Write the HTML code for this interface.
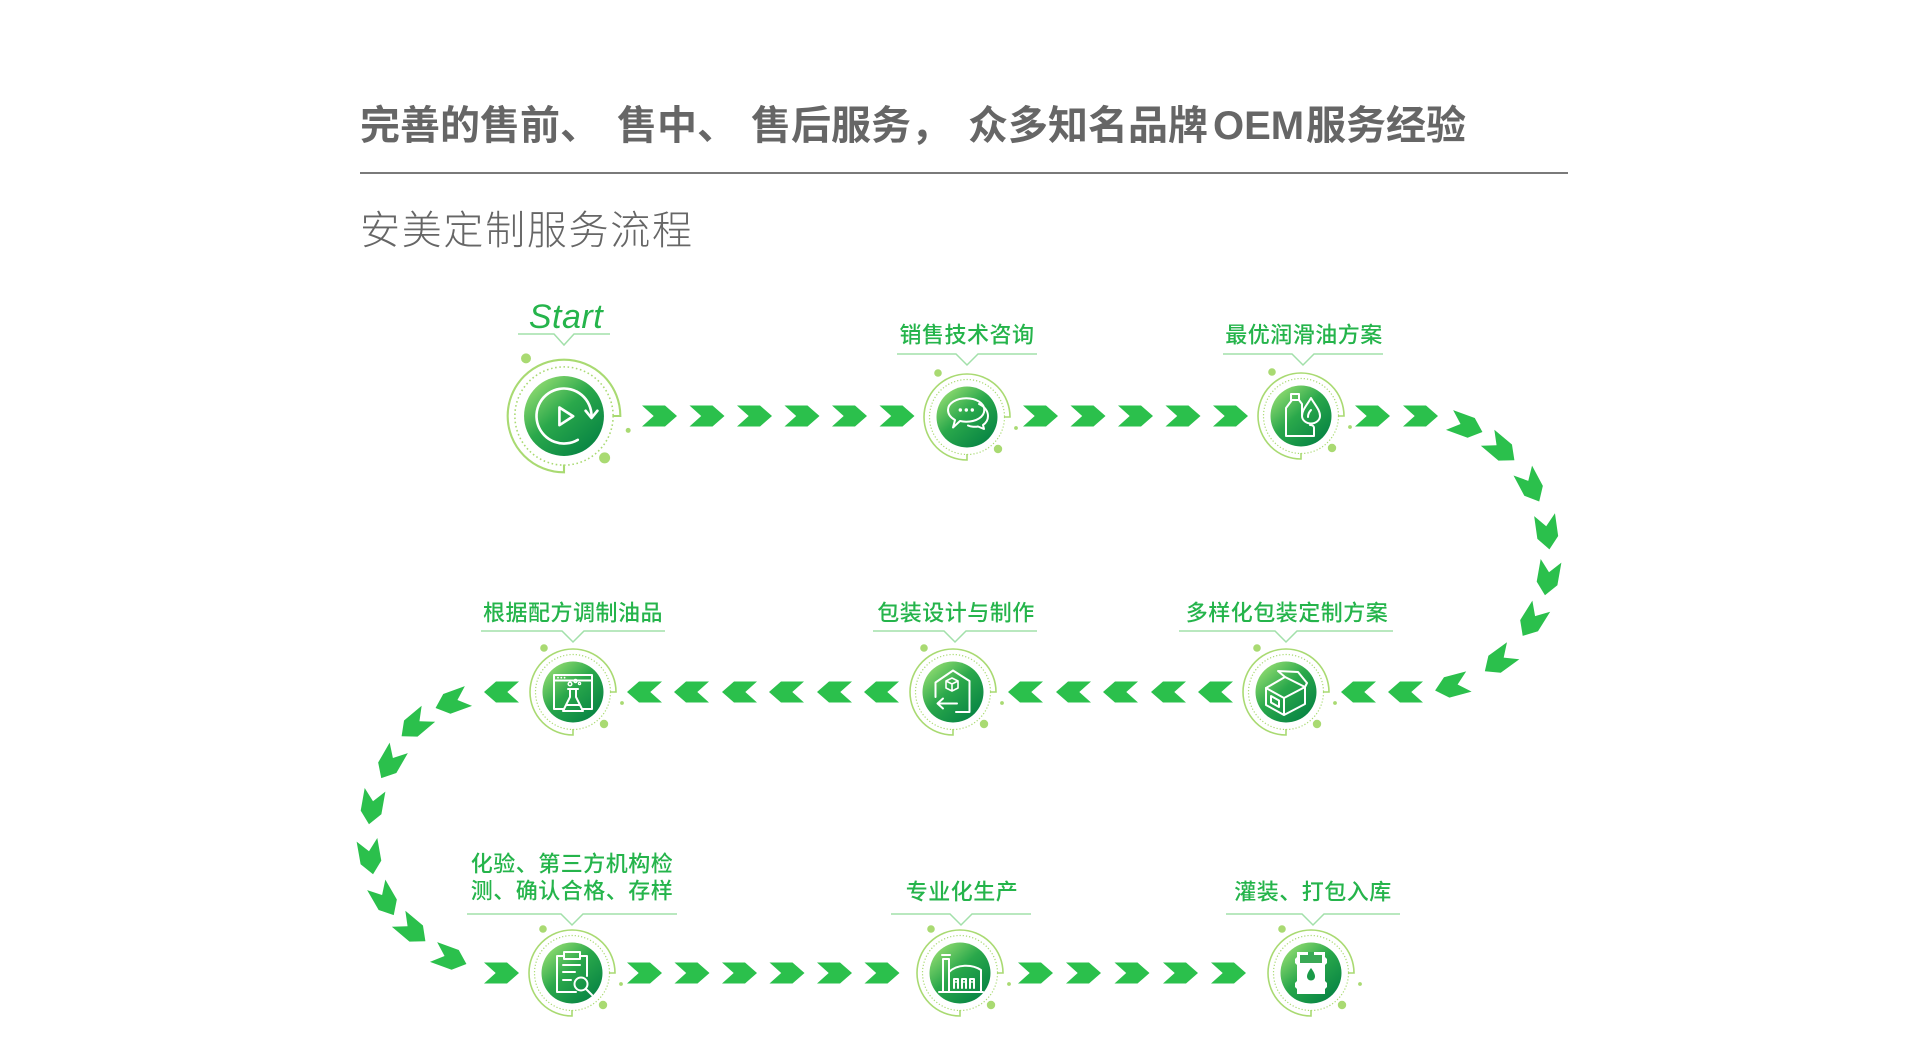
<!DOCTYPE html>
<html><head><meta charset="utf-8">
<style>
html,body{margin:0;padding:0;background:#fff;}
svg{display:block;}
.lb{font-family:"Liberation Sans","Noto Sans CJK SC",sans-serif;font-size:22px;font-weight:500;fill:#25b44b;letter-spacing:0.5px;}
.ul{fill:none;stroke:#a2e0aa;stroke-width:1.5;}
.ic{fill:none;stroke:#fff;stroke-width:2;stroke-linecap:round;stroke-linejoin:round;}
.tt{font-family:"Liberation Sans","Noto Sans CJK SC",sans-serif;font-size:40px;font-weight:bold;fill:#666;}
</style></head>
<body>
<svg width="1920" height="1038" viewBox="0 0 1920 1038" xmlns="http://www.w3.org/2000/svg">
<defs>
<linearGradient id="g" x1="0.15" y1="0.1" x2="0.85" y2="0.9">
<stop offset="0" stop-color="#8ad86e"/>
<stop offset="0.45" stop-color="#2aa84b"/>
<stop offset="1" stop-color="#088544"/>
</linearGradient>
<polygon id="ch" points="-17.5,-10.5 5.5,-10.5 17.5,0 5.5,10.5 -17.5,10.5 -5.8,0" fill="#2bc04c"/>
<g id="ring">
<path d="M37,0 L43,0 A43,43 0 1 0 0,43 L0,37" fill="none" stroke="#a9da72" stroke-width="1.6"/>
<circle r="37.5" fill="none" stroke="#a9da72" stroke-width="1.2" stroke-dasharray="1.2 2"/>
<circle cx="-29" cy="-44" r="3.8" fill="#a9da72"/>
<circle cx="31" cy="32" r="4.2" fill="#a9da72"/>
<circle cx="49" cy="11" r="1.9" fill="#a9da72"/>
<circle r="30.5" fill="url(#g)"/>
</g>
</defs>

<!-- Title -->
<text class="tt" x="360" y="126" dominant-baseline="central">完善的售前、</text>
<text class="tt" x="617" y="126" dominant-baseline="central">售中、</text>
<text class="tt" x="751" y="126" dominant-baseline="central">售后服务，</text>
<text class="tt" x="968" y="126" dominant-baseline="central">众多知名品牌</text>
<text class="tt" x="1213" y="126" dominant-baseline="central">OEM</text>
<text class="tt" x="1306" y="126" dominant-baseline="central">服务经验</text>
<rect x="360" y="172" width="1208" height="2" fill="#7a7a7a"/>
<text x="360" y="231" dominant-baseline="central" textLength="332" lengthAdjust="spacing" style="font-family:'Liberation Sans','Noto Sans CJK SC',sans-serif;font-size:40px;font-weight:300;fill:#666;">安美定制服务流程</text>

<!-- Chevrons -->
<g>
<use href="#ch" transform="translate(659.5,416)"/>
<use href="#ch" transform="translate(707,416)"/>
<use href="#ch" transform="translate(754.5,416)"/>
<use href="#ch" transform="translate(802,416)"/>
<use href="#ch" transform="translate(849.5,416)"/>
<use href="#ch" transform="translate(897,416)"/>
<use href="#ch" transform="translate(1040.5,416)"/>
<use href="#ch" transform="translate(1088,416)"/>
<use href="#ch" transform="translate(1135.5,416)"/>
<use href="#ch" transform="translate(1183,416)"/>
<use href="#ch" transform="translate(1230.5,416)"/>
<use href="#ch" transform="translate(1372.5,416)"/>
<use href="#ch" transform="translate(1420.5,416)"/>
<use href="#ch" transform="translate(1466,426) rotate(20)"/>
<use href="#ch" transform="translate(1501,449) rotate(40)"/>
<use href="#ch" transform="translate(1531,486) rotate(62)"/>
<use href="#ch" transform="translate(1547,532) rotate(82)"/>
<use href="#ch" transform="translate(1548,578) rotate(100)"/>
<use href="#ch" transform="translate(1532,621) rotate(122)"/>
<use href="#ch" transform="translate(1499,661) rotate(144)"/>
<use href="#ch" transform="translate(1452,686) rotate(165)"/>
<use href="#ch" transform="translate(1405.5,692) rotate(180)"/>
<use href="#ch" transform="translate(1358.5,692) rotate(180)"/>
<use href="#ch" transform="translate(1215.5,692) rotate(180)"/>
<use href="#ch" transform="translate(1168.5,692) rotate(180)"/>
<use href="#ch" transform="translate(1120.5,692) rotate(180)"/>
<use href="#ch" transform="translate(1073.5,692) rotate(180)"/>
<use href="#ch" transform="translate(1025.5,692) rotate(180)"/>
<use href="#ch" transform="translate(881.5,692) rotate(180)"/>
<use href="#ch" transform="translate(834.5,692) rotate(180)"/>
<use href="#ch" transform="translate(786.5,692) rotate(180)"/>
<use href="#ch" transform="translate(739.5,692) rotate(180)"/>
<use href="#ch" transform="translate(691.5,692) rotate(180)"/>
<use href="#ch" transform="translate(644.5,692) rotate(180)"/>
<use href="#ch" transform="translate(501.5,692) rotate(180)"/>
<use href="#ch" transform="translate(452,702) rotate(160)"/>
<use href="#ch" transform="translate(415,725) rotate(140)"/>
<use href="#ch" transform="translate(390,763) rotate(120)"/>
<use href="#ch" transform="translate(372,807) rotate(100)"/>
<use href="#ch" transform="translate(370,857) rotate(80)"/>
<use href="#ch" transform="translate(385,900) rotate(60)"/>
<use href="#ch" transform="translate(412,930) rotate(40)"/>
<use href="#ch" transform="translate(450,958) rotate(20)"/>
<use href="#ch" transform="translate(501.5,973)"/>
<use href="#ch" transform="translate(644.5,973)"/>
<use href="#ch" transform="translate(692,973)"/>
<use href="#ch" transform="translate(739.5,973)"/>
<use href="#ch" transform="translate(787,973)"/>
<use href="#ch" transform="translate(834.5,973)"/>
<use href="#ch" transform="translate(882,973)"/>
<use href="#ch" transform="translate(1035.5,973)"/>
<use href="#ch" transform="translate(1083.5,973)"/>
<use href="#ch" transform="translate(1132,973)"/>
<use href="#ch" transform="translate(1180.5,973)"/>
<use href="#ch" transform="translate(1228.5,973)"/>
</g>

<!-- Labels -->
<text x="566" y="328" text-anchor="middle" style="font-family:'Liberation Sans',sans-serif;font-size:34px;font-style:italic;fill:#25b44b;letter-spacing:0.5px;">Start</text>
<polyline class="ul" points="518,334 554,334 564,345 574,334 610,334"/>

<text class="lb" x="967" y="335" text-anchor="middle" dominant-baseline="central">销售技术咨询</text>
<polyline class="ul" points="897,354 956,354 967,365 978,354 1037,354"/>

<text class="lb" x="1304" y="335" text-anchor="middle" dominant-baseline="central">最优润滑油方案</text>
<polyline class="ul" points="1223,354 1292,354 1303,365 1314,354 1383,354"/>

<text class="lb" x="573" y="613" text-anchor="middle" dominant-baseline="central">根据配方调制油品</text>
<polyline class="ul" points="481,631 562,631 573,642 584,631 665,631"/>

<text class="lb" x="956" y="613" text-anchor="middle" dominant-baseline="central">包装设计与制作</text>
<polyline class="ul" points="873,631 944,631 955,642 966,631 1037,631"/>

<text class="lb" x="1287" y="613" text-anchor="middle" dominant-baseline="central">多样化包装定制方案</text>
<polyline class="ul" points="1179,631 1275,631 1286,642 1297,631 1393,631"/>

<text class="lb" x="572" y="864" text-anchor="middle" dominant-baseline="central">化验、第三方机构检</text>
<text class="lb" x="572" y="891" text-anchor="middle" dominant-baseline="central">测、确认合格、存样</text>
<polyline class="ul" points="467,914 561,914 572,925 583,914 677,914"/>

<text class="lb" x="962" y="892" text-anchor="middle" dominant-baseline="central">专业化生产</text>
<polyline class="ul" points="891,914 950,914 961,925 972,914 1031,914"/>

<text class="lb" x="1313" y="892" text-anchor="middle" dominant-baseline="central">灌装、打包入库</text>
<polyline class="ul" points="1226,914 1302,914 1313,925 1324,914 1400,914"/>

<!-- Node 1 Start -->
<g transform="translate(564,416) scale(1.31)">
<use href="#ring"/>
<path class="ic" d="M10.5,18.2 A21,21 0 1 1 21,0"/>
<path class="ic" d="M16.5,-4 L21,1.5 L25.5,-4"/>
<path class="ic" d="M-3.5,-6.5 L-3.5,7 L7,0.2 Z"/>
</g>

<!-- Node 2 chat -->
<g transform="translate(967,417)">
<use href="#ring"/>
<path class="ic" d="M-12,3 C-16.5,0.5 -19,-3 -19,-7 C-19,-14 -10.5,-18.7 -0.7,-18.7 C9,-18.7 17.3,-14 17.3,-7 C17.3,0 9,4.7 -0.7,4.7 C-3,4.7 -5,4.5 -7,4 L-14,10.5 Z"/>
<path class="ic" d="M12,-13 C17.5,-10.5 21,-6 21,-1 C21,3 19,6 16,8 L17,12 L11,9.5 C8.5,10 4,10 1,8.5"/>
<circle cx="-6.7" cy="-7" r="1.7" fill="#fff"/>
<circle cx="-0.7" cy="-7" r="1.7" fill="#fff"/>
<circle cx="5.3" cy="-7" r="1.7" fill="#fff"/>
</g>

<!-- Node 3 bottle -->
<g transform="translate(1301,416)">
<use href="#ring"/>
<path class="ic" d="M-2,-16 L-9,-16 L-15,-8 L-15,20 L13,20 L13,12 C13,10 11,9 9,9"/>
<path class="ic" d="M-10,-16 L-10,-22 L-2,-22 L-2,-16"/>
<path class="ic" d="M1,-1 L1,-12 L-2,-16"/>
<path class="ic" d="M10,-18 C14,-11 19,-6 19,0 C19,4 15,7.5 10,7.5 C5,7.5 1,4 1,0 C1,-6 6,-11 10,-18 Z"/>
<path class="ic" d="M7,1 C7,-2 8,-4 10,-6"/>
</g>

<!-- Node 4 browser flask -->
<g transform="translate(573,692)">
<use href="#ring"/>
<path class="ic" d="M-9,17 L-19,17 L-19,-17 L19,-17 L19,17 L9,17"/>
<path class="ic" d="M-19,-11.5 L19,-11.5"/>
<circle cx="-15" cy="-14.3" r="0.9" fill="#fff"/>
<circle cx="-11.7" cy="-14.3" r="0.9" fill="#fff"/>
<circle cx="-8.4" cy="-14.3" r="0.9" fill="#fff"/>
<path class="ic" d="M-3,-3 L-3,5 L-10,19 L10,19 L3,5 L3,-3 M-5,-3 L5,-3 M-7,13 L7,13"/>
<circle class="ic" cx="-3" cy="-8" r="1.8" style="stroke-width:1.5"/>
<circle class="ic" cx="2.5" cy="-11" r="1.5" style="stroke-width:1.5"/>
<circle class="ic" cx="6.5" cy="-8.5" r="1.1" style="stroke-width:1.3"/>
</g>

<!-- Node 5 house box arrow -->
<g transform="translate(953,692)">
<use href="#ring"/>
<path class="ic" d="M-17.5,5 L-17.5,-9.5 L0,-21.5 L16.5,-11 L16.5,20 L3,20"/>
<path class="ic" d="M4,11.5 L-15,11.5 M-10,6.5 L-15.5,11.5 L-10,16.5"/>
<path class="ic" style="stroke-width:1.6" d="M-7,-11 L-1,-14 L5,-11 L5,-4 L-1,-1 L-7,-4 Z M-7,-11 L-1,-8 L5,-11 M-1,-8 L-1,-1"/>
</g>

<!-- Node 6 open box -->
<g transform="translate(1286,692)">
<use href="#ring"/>
<path class="ic" d="M-20,-4 L-2,6 L19,-5 M-20,-4 L-20,13 L-2,23 L19,12 L19,-5 M-2,6 L-2,23"/>
<path class="ic" d="M-20,-4 L-1,-15 L19,-5"/>
<path class="ic" d="M-1,-15 L-8,-21 L12,-20 L21,-9 L19,-5"/>
<path class="ic" d="M-15,4 L-7,8.5 L-7,15 L-15,10.5 Z"/>
</g>

<!-- Node 7 clipboard -->
<g transform="translate(572,973)">
<use href="#ring"/>
<path class="ic" d="M-8,-17 L-15,-17 L-15,19 L4,19 M8,-17 L15,-17 L15,3"/>
<path class="ic" d="M-8,-21 L8,-21 L8,-14 L-8,-14 Z"/>
<path class="ic" d="M-9,-8 L8,-8 M-9,-1 L3,-1 M-9,7 L-1,7"/>
<circle class="ic" cx="9" cy="11" r="6.5"/>
<path class="ic" d="M14,16 L20,22"/>
</g>

<!-- Node 8 factory -->
<g transform="translate(960,973)">
<use href="#ring"/>
<path class="ic" d="M-18,-18 L-10,-18 M-17,19 L-17,-14 L-11,-14 L-11,19"/>
<path class="ic" d="M-11,19 L-11,-1 C-3,-9 12,-9 21,-3 L21,19"/>
<path class="ic" d="M-21,19 L23,19"/>
<path class="ic" d="M-6,15 L-6,6 L-2,6 L-2,15 M2,15 L2,6 L6,6 L6,15 M10,15 L10,6 L14,6 L14,15"/>
<circle cx="-4" cy="9" r="0.9" fill="#fff"/>
<circle cx="4" cy="9" r="0.9" fill="#fff"/>
<circle cx="12" cy="9" r="0.9" fill="#fff"/>
</g>

<!-- Node 9 barrel -->
<g transform="translate(1311,973)">
<use href="#ring"/>
<path fill="#fff" d="M-14,-21 L14,-21 L14,-16 L16,-14 L16,-10 L14,-8 L14,8 L16,10 L16,14 L14,16 L14,21 L-14,21 L-14,16 L-16,14 L-16,10 L-14,8 L-14,-8 L-16,-10 L-16,-14 L-14,-16 Z"/>
<rect x="-11" y="-18" width="22" height="8" fill="#3aa955"/>
<rect x="-3" y="-21" width="6" height="3" fill="#3aa955"/>
<path fill="#1a9a48" d="M0,-5 C3,-1 4,1.5 4,3.5 C4,6 2,7.5 0,7.5 C-2,7.5 -4,6 -4,3.5 C-4,1.5 -3,-1 0,-5 Z"/>
</g>

</svg>
</body></html>
